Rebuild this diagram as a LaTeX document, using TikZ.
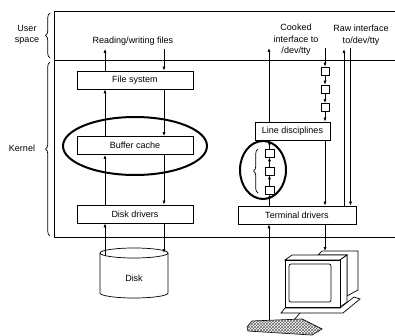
\documentclass[tikz,border=0pt]{standalone}
\usepackage{fontspec}
\setmainfont{Liberation Sans}
\usetikzlibrary{arrows.meta,decorations.pathreplacing,patterns}
\tikzset{
  blk/.style={draw,minimum height=18pt,inner sep=0pt},
  sq/.style={draw,minimum width=8pt,minimum height=8pt,inner sep=0pt},
  ring/.style={line width=2pt},
  brc/.style={decorate,decoration={brace,amplitude=4.5pt}},
}
\begin{document}
\begin{tikzpicture}[x=1pt,y=-1pt,>={Latex[length=4pt,width=3pt]},line width=.7pt,font=\fontsize{9}{11.5}\selectfont]
\useasboundingbox (0,0) rectangle (395,336);
% frame
\draw (395,11)--(54,11)--(54,237)--(395,237);
\draw (54,60)--(395,60);
\draw[brc] (50,58)--(50,13);
\draw[brc] (50,236)--(50,62);
\node[align=center] (us) at (27,35) {User\\space};
\node (kn) at (22,148) {Kernel};
% file side
\node[blk,minimum width=116pt] (fs) at (135,80) {File system};
\node[blk,minimum width=116pt] (bc) at (135,145.5) {Buffer cache};
\node[blk,minimum width=116pt] (dd) at (135,214) {Disk drivers};
\draw[ring] (135,146) ellipse[x radius=72,y radius=29];
\node (rw) at (133,41) {Reading/writing files};
\coordinate (L) at (105,0);
\coordinate (R) at (164,0);
\coordinate (dL) at (105,255.5);
\coordinate (dR) at (164,253);
\draw[->] (fs.north-|L)--(L|-rw.south);
\draw[->] (R|-rw.south)--(fs.north-|R);
\draw[->] (bc.north-|L)--(fs.south-|L);
\draw[->] (fs.south-|R)--(bc.north-|R);
\draw[->] (dd.north-|L)--(bc.south-|L);
\draw[->] (bc.south-|R)--(dd.north-|R);
\draw[->] (dL)--(dd.south-|L);
\draw[->] (dd.south-|R)--(dR);
% disk
\draw (100,253)--(100,293) arc[start angle=180,end angle=0,x radius=34,y radius=5]--(168,253);
\draw (134,253) ellipse[x radius=34,y radius=5];
\node (disk) at (134,278) {Disk};
% terminal side
\node[blk,minimum width=75pt] (ld) at (292.5,131) {Line disciplines};
\node[blk,minimum width=118pt] (td) at (297,215) {Terminal drivers};
\node[align=center] (ck) at (296,40) {Cooked\\interface to\\/dev/tty};
\node[align=center] (raw) at (361,35) {Raw interface\\to/dev/tty};
\node[sq] (q1) at (325,71) {};
\node[sq] (q2) at (325,89) {};
\node[sq] (q3) at (325,107.5) {};
\node[sq,minimum width=9pt] (p1) at (269.5,153) {};
\node[sq,minimum width=9pt] (p2) at (269.5,171) {};
\node[sq,minimum width=9pt] (p3) at (269.5,190) {};
\coordinate (ckU) at (269,48);
\coordinate (ckD) at (325,48);
\coordinate (rwU) at (344,49);
\coordinate (rwD) at (350.5,48);
\draw[->] (ld.north-|ckU)--(ckU);
\draw[->] (ckD)--(q1);
\draw[->] (q1)--(q2);
\draw[->] (q2)--(q3);
\draw[->] (q3)--(ld.north-|q3);
\draw[->] (ld.south-|q3)--(td.north-|q3);
\draw[->] (td.north-|p3)--(p3);
\draw[->] (p3)--(p2);
\draw[->] (p2)--(p1);
\draw[->] (p1)--(ld.south-|p1);
\draw[->] (td.north-|rwU)--(rwU);
\draw[->] (rwD)--(td.north-|rwD);
\draw[brc] (258,193)--(258,149);
\draw[ring] (263,170) ellipse[x radius=23,y radius=29];
% monitor and keyboard
\coordinate (scr) at (325,251);
\coordinate (kb) at (269,324);
\draw[->] (td.south-|scr)--(scr);
\draw[->] (kb)--(td.south-|kb);
\draw[fill=white] (318,255)--(322,251)--(358,251)--(358,290)--(347,296)--(347,255)--cycle;
\draw[fill=white] (285,260)--(292,255)--(347,255)--(340,260)--cycle;
\draw[fill=white] (340,260)--(347,255)--(347,302)--(340,307)--cycle;
\draw[fill=white] (281,313)--(285,308)--(340,308)--(354,297)--(360,299)--(343,313)--cycle;
\draw[fill=white] (285,260) rectangle (340,307);
\draw[rounded corners=2pt] (289,264) rectangle (331,302);
\draw (300,313)--(294,320);
\draw[fill=white] (247,327)--(252,321)--(302,319)--(322,329)--(312,335)--(248,331)--cycle;
\fill[pattern=crosshatch,pattern color=black!60] (247,327)--(252,321)--(302,319)--(322,329)--(312,335)--(248,331)--cycle;
\end{tikzpicture}
\end{document}
